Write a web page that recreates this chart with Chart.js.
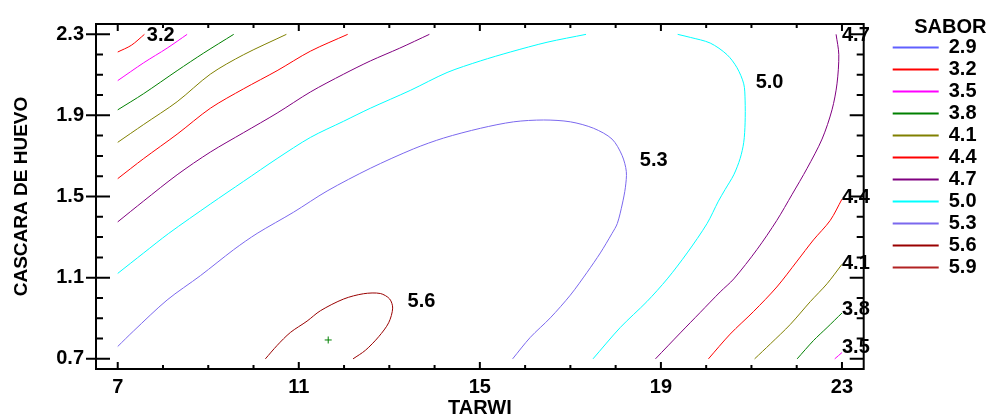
<!DOCTYPE html>
<html lang="es">
<head>
  <meta charset="UTF-8"/>
  <title>SABOR - Contornos de superficie de respuesta</title>
  <script src="https://cdn.jsdelivr.net/npm/chart.js"></script>
  <style>
    html, body { margin: 0; padding: 0; background: #fff; }
    canvas { display: block; }
  </style>
</head>
<body>
  <canvas id="contourChart" width="990" height="420"></canvas>
  <script>
// niveles del contorno y sus colores
const levels = ['2.9', '3.2', '3.5', '3.8', '4.1', '4.4', '4.7', '5.0', '5.3', '5.6', '5.9'];
const levelColors = ['#6060ff', '#ff0000', '#ff00ff', '#008000', '#808000', '#ff0000', '#800080', '#00ffff', '#7b68ee', '#990000', '#b22222'];
const xTicks = [7, 11, 15, 19, 23];
const yTicks = [0.7, 1.1, 1.5, 1.9, 2.3];

// tramos de cada curva [TARWI, CASCARA DE HUEVO]
const s32 = [[7, 2.212], [7.3, 2.245], [7.59, 2.299]];
const s35a = [[7, 2.071], [7.574, 2.159], [8.091, 2.231], [8.533, 2.299]];
const s35b = [[22.84, 0.70], [23, 0.731]];
const s38a = [[7, 1.927], [7.574, 2.007], [8.312, 2.120], [8.900, 2.207], [9.562, 2.299]];
const s38b = [[22.01, 0.70], [22.37, 0.790], [22.67, 0.854], [23, 0.926]];
const s41a = [[7, 1.767], [7.574, 1.855], [8.312, 1.967], [9.047, 2.103], [9.783, 2.199], [10.726, 2.299]];
const s41b = [[21.07, 0.70], [21.42, 0.774], [21.86, 0.870], [22.30, 0.982], [22.67, 1.070], [23, 1.166]];
const s44a = [[7, 1.588], [7.574, 1.687], [8.312, 1.807], [9.047, 1.935], [9.783, 2.031], [10.521, 2.120], [11.256, 2.216], [12.080, 2.299]];
const s44b = [[20.05, 0.70], [20.53, 0.822], [21.05, 0.934], [21.56, 1.054], [22.01, 1.182], [22.37, 1.286], [22.74, 1.382], [23, 1.487]];
const s47a = [[7, 1.375], [7.574, 1.478], [8.312, 1.607], [9.047, 1.719], [9.783, 1.815], [10.521, 1.911], [11.256, 2.015], [11.992, 2.103], [12.581, 2.168], [13.23, 2.231], [13.885, 2.299]];
const s47b = [[18.88, 0.70], [19.43, 0.828], [19.87, 0.929], [20.31, 1.030], [20.61, 1.094], [21.12, 1.238], [21.56, 1.382], [21.90, 1.511], [22.23, 1.639], [22.56, 1.783], [22.78, 1.927], [22.89, 2.055], [22.93, 2.199], [22.87, 2.299]];
const s50a = [[7, 1.121], [7.574, 1.222], [8.126, 1.318], [9.047, 1.463], [9.783, 1.575], [10.521, 1.687], [11.256, 1.791], [11.992, 1.871], [12.581, 1.935], [13.465, 2.023], [14.276, 2.111], [15.011, 2.168], [15.674, 2.212], [16.484, 2.260], [17.346, 2.299]];
const s50b = [[19.37, 2.299], [19.65, 2.284], [20.09, 2.256], [20.46, 2.199], [20.68, 2.135], [20.83, 2.055], [20.86, 1.975], [20.86, 1.863], [20.83, 1.767], [20.75, 1.687], [20.61, 1.607], [20.42, 1.535], [20.27, 1.477], [20.02, 1.367], [19.58, 1.222], [19.14, 1.094], [18.69, 0.982], [18.10, 0.854], [17.50, 0.70]];
const s53 = [[7, 0.761], [7.353, 0.838], [8.091, 0.990], [8.827, 1.110], [9.562, 1.238], [10.079, 1.318], [10.887, 1.423], [11.625, 1.527], [12.581, 1.639], [13.538, 1.735], [14.200, 1.788], [15.011, 1.836], [15.747, 1.868], [16.409, 1.877], [16.999, 1.868], [17.514, 1.836], [17.920, 1.783], [18.141, 1.703], [18.236, 1.623], [18.214, 1.543], [18.147, 1.463], [18.037, 1.367], [17.920, 1.318], [17.662, 1.222], [17.368, 1.126], [16.999, 1.014], [16.557, 0.902], [16.115, 0.806], [15.724, 0.70]];
const s56 = [[10.262, 0.70], [10.521, 0.766], [10.814, 0.830], [11.183, 0.886], [11.477, 0.937], [11.992, 0.995], [12.433, 1.021], [12.802, 1.022], [13.008, 0.995], [13.074, 0.950], [12.986, 0.878], [12.765, 0.809], [12.471, 0.742], [12.199, 0.70]];
const optimum = [[11.65, 0.793]];

const pieces = {
  '2.9': [], '3.2': [s32], '3.5': [s35a, s35b], '3.8': [s38a, s38b], '4.1': [s41a, s41b],
  '4.4': [s44a, s44b], '4.7': [s47a, s47b], '5.0': [s50a, s50b], '5.3': [s53], '5.6': [s56], '5.9': []
};

// etiquetas sobre las curvas: texto, TARWI, CASCARA, alineacion
const contourLabels = [
  ['3.2', 7.95, 2.292, 'center'], ['5.0', 21.40, 2.063, 'center'], ['5.3', 18.84, 1.679, 'center'],
  ['5.6', 13.71, 0.982, 'center'], ['4.7', 23.0, 2.295, 'left'], ['4.4', 23.0, 1.495, 'left'],
  ['4.1', 23.0, 1.169, 'left'], ['3.8', 23.0, 0.942, 'left'], ['3.5', 23.0, 0.758, 'left']
];

const FAMILY = "'Liberation Sans', Arial, sans-serif";
const boldFont = { family: FAMILY, size: 20, weight: 'bold' };

function toPoints(list) {
  const out = [];
  list.forEach((piece, i) => {
    if (i) out.push({ x: null, y: null });
    piece.forEach(([x, y]) => out.push({ x, y }));
  });
  return out;
}

const datasets = levels.map((lv, i) => ({
  label: lv,
  data: toPoints(pieces[lv]),
  borderColor: levelColors[i],
  backgroundColor: levelColors[i],
  borderWidth: 1,
  showLine: true,
  spanGaps: false,
  tension: 0.3,
  pointRadius: 0,
  pointHoverRadius: 0
}));
datasets.push({
  label: 'opt',
  data: optimum.map(([x, y]) => ({ x, y })),
  showLine: false,
  pointStyle: 'cross',
  pointRadius: 3.5,
  borderColor: '#008000',
  borderWidth: 1
});

// marco, marcas de ejes y rotulos de las curvas
const frameAndLabels = {
  id: 'frameAndLabels',
  afterDatasetsDraw(chart) {
    const { ctx, chartArea: a, scales: { x, y } } = chart;
    ctx.save();
    ctx.strokeStyle = '#000';
    ctx.lineWidth = 2;
    ctx.strokeRect(a.left, a.top, a.right - a.left, a.bottom - a.top);
    ctx.beginPath();
    for (let v = 7; v <= 23; v++) {
      const px = x.getPixelForValue(v);
      const len = (v - 7) % 4 === 0 ? 7 : 4;
      ctx.moveTo(px, a.bottom); ctx.lineTo(px, a.bottom - len);
      ctx.moveTo(px, a.top); ctx.lineTo(px, a.top + len);
    }
    for (let k = 7; k <= 23; k++) {
      const py = y.getPixelForValue(k / 10);
      const major = (k - 7) % 4 === 0;
      ctx.moveTo(major ? a.left - 10 : a.left, py); ctx.lineTo(a.left + (major ? 14 : 7), py);
      ctx.moveTo(a.right, py); ctx.lineTo(a.right - (major ? 14 : 7), py);
    }
    ctx.stroke();
    ctx.fillStyle = '#000';
    ctx.font = 'bold 20px ' + FAMILY;
    ctx.textBaseline = 'middle';
    contourLabels.forEach(([t, vx, vy, al]) => {
      ctx.textAlign = al;
      ctx.fillText(t, x.getPixelForValue(vx), y.getPixelForValue(vy));
    });
    ctx.restore();
  }
};

Chart.defaults.color = '#000';

new Chart(document.getElementById('contourChart'), {
  type: 'scatter',
  data: { datasets },
  options: {
    responsive: false,
    animation: false,
    events: [],
    layout: { padding: { top: 16, right: 3.5, bottom: 0, left: 0 } },
    scales: {
      x: {
        type: 'linear', position: 'bottom', min: 6.52, max: 23.48,
        afterBuildTicks: s => { s.ticks = xTicks.map(v => ({ value: v })); },
        afterFit: s => { s.height = 51; },
        grid: { display: false, drawTicks: false },
        border: { display: false },
        ticks: { font: boldFont, color: '#000', padding: 6, maxRotation: 0, callback: v => String(v) },
        title: { display: true, text: 'TARWI', font: boldFont, color: '#000', padding: { top: 0, bottom: 0 } }
      },
      y: {
        type: 'linear', position: 'left', min: 0.65, max: 2.35,
        afterBuildTicks: s => { s.ticks = yTicks.map(v => ({ value: v })); },
        afterFit: s => { s.width = 96; },
        grid: { display: false, drawTicks: false },
        border: { display: false },
        ticks: { font: boldFont, color: '#000', padding: 12, callback: v => v.toFixed(1) },
        title: { display: true, text: 'CASCARA DE HUEVO', font: { family: FAMILY, size: 19, weight: 'bold' }, color: '#000', padding: { top: 10, bottom: 0 } }
      },
      gap: {
        type: 'linear', position: 'right', display: true, min: 0, max: 1,
        afterFit: s => { s.width = 27; },
        grid: { display: false, drawTicks: false },
        border: { display: false },
        ticks: { display: false }
      }
    },
    plugins: {
      tooltip: { enabled: false },
      legend: {
        position: 'right',
        align: 'start',
        title: { display: true, text: 'SABOR', color: '#000', font: boldFont, position: 'end', padding: { top: 1, bottom: -5.5 } },
        labels: {
          usePointStyle: true,
          pointStyle: 'line',
          pointStyleWidth: 46,
          padding: 2,
          color: '#000',
          font: boldFont,
          filter: item => item.text !== 'opt',
          generateLabels: chart => Chart.defaults.plugins.legend.labels.generateLabels(chart)
            .map(l => Object.assign(l, { lineWidth: 2 }))
        }
      }
    }
  },
  plugins: [frameAndLabels]
});
  </script>
</body>
</html>
